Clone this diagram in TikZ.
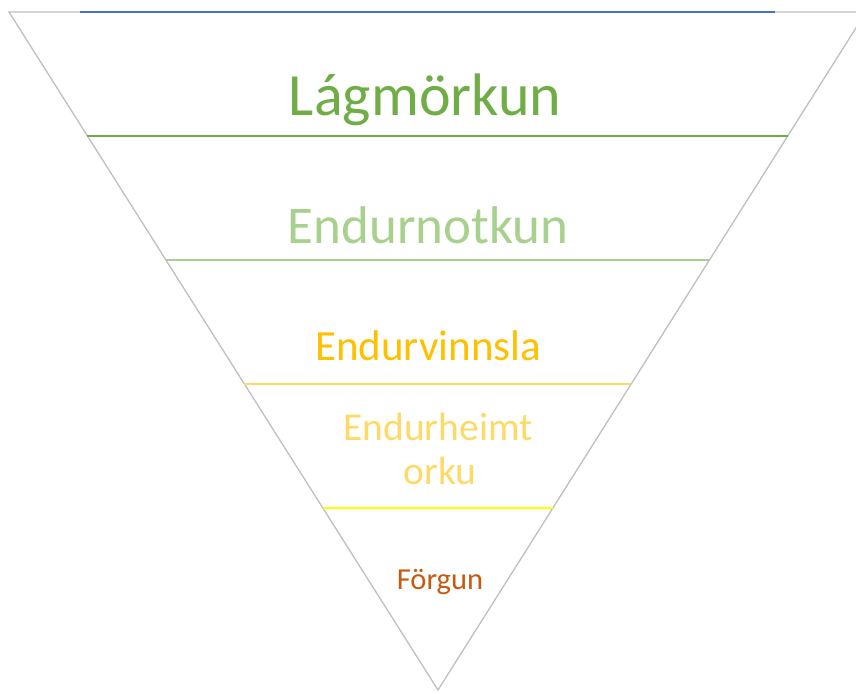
\documentclass[tikz,border=0pt]{standalone}
\usepackage{fontspec}
\setmainfont{Carlito}
\definecolor{edgegray}{HTML}{BFBFBF}
\definecolor{topblue}{HTML}{4472C4}
\definecolor{lvlA}{HTML}{70AD47}
\definecolor{lvlB}{HTML}{A9D18E}
\definecolor{lvlC}{HTML}{FFC000}
\definecolor{lvlD}{HTML}{FFD966}
\definecolor{lvlE}{HTML}{FFFF00}
\definecolor{lvlF}{HTML}{C55A11}
\begin{document}
\begin{tikzpicture}[x=1pt,y=-1pt,
  divider/.style={line width=1.5pt},
  label/.style={anchor=base,inner sep=0pt,align=center}]
\useasboundingbox (0,0) rectangle (856,693);
% corners of the inverted triangle
\coordinate (tl) at (9,12);
\coordinate (tr) at (866,12);
\coordinate (ap) at (438,690);
\begin{scope}
\clip (0,0) rectangle (856,693);
\draw[edgegray,line width=1.3pt] (tl) -- (tr) -- (ap) -- cycle;
\end{scope}
\draw[topblue,line width=1.3pt] (80,12) -- (775,12);
% level dividers, each spanning the triangle
\foreach \yy/\cc in {136/lvlA,260/lvlB,384/lvlD,508/lvlE}{
  \path (tl) -- (ap) coordinate[pos={(\yy-12)/678}] (l\yy);
  \path (tr) -- (ap) coordinate[pos={(\yy-12)/678}] (r\yy);
  \draw[divider,\cc] (l\yy) -- (r\yy);
}
\node[label,text=lvlA,font=\fontsize{60}{66}\selectfont] (t1) at (425,115) {Lágmörkun};
\node[label,text=lvlB,font=\fontsize{53}{58}\selectfont] (t2) at (428,243) {Endurnotkun};
\node[label,text=lvlC,font=\fontsize{43}{50}\selectfont] (t3) at (428,360) {Endurvinnsla};
\node[label,text=lvlD,font=\fontsize{39.5}{44}\selectfont] (t4) at (438,440) {Endurheimt};
\node[label,text=lvlD,font=\fontsize{39.5}{44}\selectfont] (t5) at (440,484) {orku};
\node[label,text=lvlF,font=\fontsize{30.5}{36}\selectfont] (t6) at (440,589) {Förgun};
\end{tikzpicture}
\end{document}
